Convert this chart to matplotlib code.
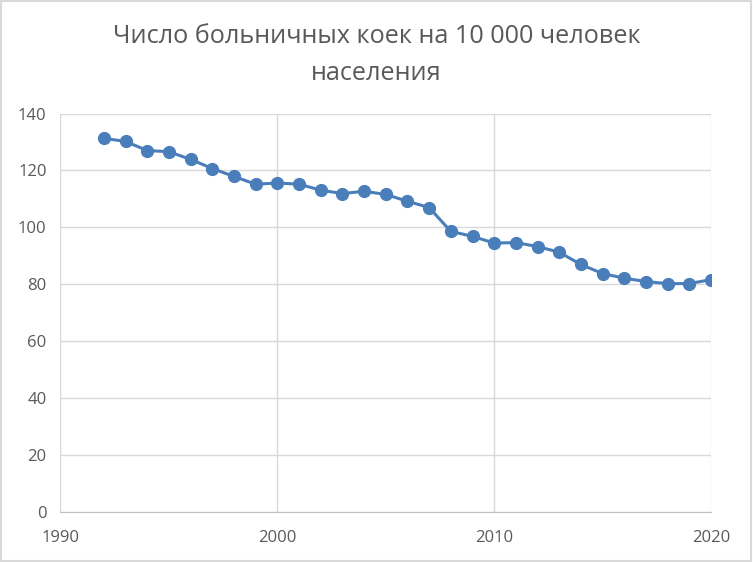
import matplotlib.pyplot as plt
from matplotlib.patches import Rectangle

years = list(range(1992, 2021))
beds = [131.3, 130.2, 127.0, 126.6, 123.9, 120.7, 117.9, 115.2, 115.6, 115.2,
        113.1, 111.9, 112.7, 111.6, 109.2, 107.0, 98.6, 96.9, 94.5, 94.7,
        93.3, 91.3, 87.0, 83.8, 82.2, 81.0, 80.3, 80.3, 81.7]
title = 'Число больничных коек на 10 000 человек\nнаселения'

plt.rcParams['font.family'] = ['Open Sans', 'DejaVu Sans']

fig = plt.figure(figsize=(7.53, 5.62), dpi=100)
ax = fig.add_axes([0.0803, 0.0884, 0.864, 0.7096])

ax.plot(years, beds, color='#4a7ebb', linewidth=2.2, marker='o',
        markersize=8.5, markerfacecolor='#4a7ebb', markeredgecolor='#4a7ebb',
        zorder=3)

ax.set_xlim(1990, 2020)
ax.set_ylim(0, 140)
ax.set_xticks(range(1990, 2021, 10))
ax.set_yticks(range(0, 141, 20))
ax.grid(True, color='#d9d9d9', linewidth=1)
for s in ax.spines.values():
    s.set_visible(False)
ax.spines['bottom'].set_visible(True)
ax.spines['bottom'].set_color('#bfbfbf')
ax.tick_params(length=0, colors='#595959', labelsize=12)
ax.tick_params(axis='x', pad=13)
ax.tick_params(axis='y', pad=10)

fig.text(0.5, 0.902, title, ha='center', va='center', fontsize=18.2,
         color='#595959', linespacing=1.6)

fig.patches.append(Rectangle((0.001, 0.001), 0.997, 0.997, transform=fig.transFigure,
                             fill=False, edgecolor='#d9d9d9', linewidth=1.5))

fig.savefig('out.png', dpi=100)
